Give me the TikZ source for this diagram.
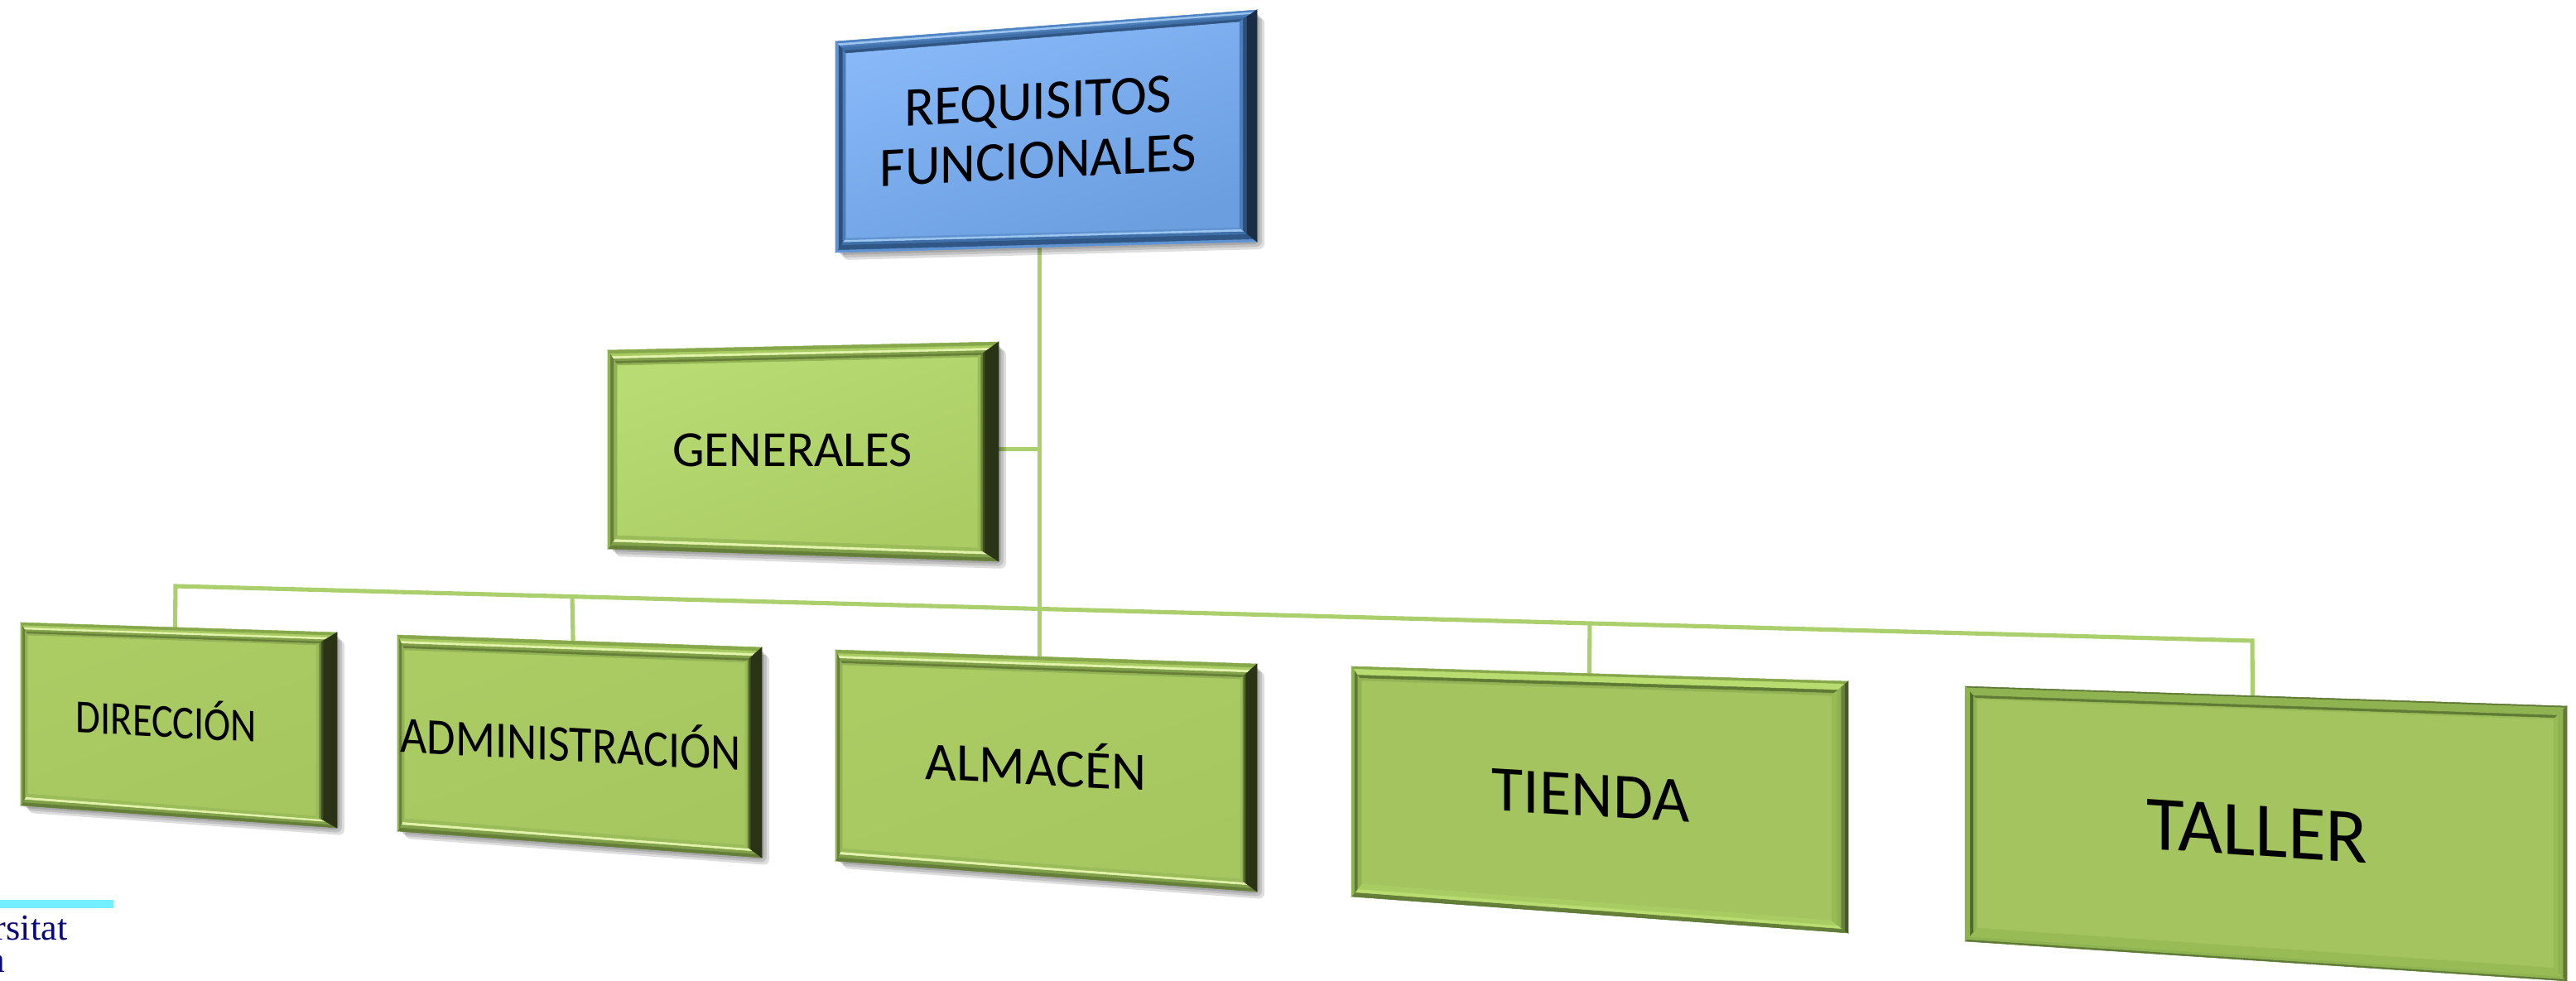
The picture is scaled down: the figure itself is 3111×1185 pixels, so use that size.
\documentclass[tikz,border=0pt]{standalone}
\usepackage{fontspec}
\setmainfont{Carlito}
\newfontfamily\logofont{Liberation Serif}
\usetikzlibrary{calc,backgrounds}
% green glossy palette
\definecolor{gA}{HTML}{86A84B}\definecolor{gB}{HTML}{A8CB62}\definecolor{gC}{HTML}{E3F3AC}
\definecolor{gD}{HTML}{80A04A}\definecolor{gE}{HTML}{667F38}\definecolor{gF}{HTML}{92B354}
\definecolor{gG}{HTML}{2B3317}\definecolor{gH}{HTML}{3F4D22}\definecolor{gI}{HTML}{66813A}
\definecolor{gJ}{HTML}{9ABC59}
% flat green palette
\definecolor{fA}{HTML}{8FB351}\definecolor{fB}{HTML}{5E7A34}\definecolor{fC}{HTML}{98BB56}
\definecolor{fD}{HTML}{4F6A2B}\definecolor{fE}{HTML}{B9DC70}\definecolor{fF}{HTML}{46592A}
% blue palette
\definecolor{bA}{HTML}{4F84C4}\definecolor{bB}{HTML}{9CC5F0}\definecolor{bC}{HTML}{3F6FA8}
\definecolor{bD}{HTML}{2F5684}\definecolor{bE}{HTML}{5E92D2}\definecolor{bF}{HTML}{1A2D45}
\definecolor{bG}{HTML}{2E4F78}\definecolor{bH}{HTML}{4C7DB8}
% faces
\definecolor{faceBa}{HTML}{88B8F8}\definecolor{faceBb}{HTML}{6A9EDF}
\definecolor{faceGa}{HTML}{B8DB74}\definecolor{faceGb}{HTML}{ABCC63}
\definecolor{faceDa}{HTML}{ABCC63}\definecolor{faceDb}{HTML}{A6C660}
\definecolor{faceFa}{HTML}{A3C45E}\definecolor{faceFb}{HTML}{A3C45E}
\definecolor{linkgreen}{HTML}{AACF6C}\definecolor{logobar}{HTML}{73EFFF}\definecolor{logotext}{HTML}{0A0A78}
\tikzset{
  link/.style={draw=linkgreen,line width=1.45pt,line join=miter},
  lbl/.style={transform shape,inner sep=0pt,align=center,text=black},
}
\newcommand{\palGloss}{%
  \def\pT{0/.25/gA,.25/.42/gB,.42/.58/gC,.58/.75/gD,.75/.9/gE,.9/1/gF}%
  \def\pB{0/.3/gE,.3/.55/gD,.55/.75/gC,.75/1/gJ}%
  \def\pL{0/.3/gF,.3/.7/gE,.7/1/gF}%
  \def\pR{0/.68/gG,.68/.78/gH,.78/.88/gI,.88/1/gJ}%
  \def\shadlist{3,6,9}}
\newcommand{\palMid}{%
  \def\pT{0/.2/gA,.2/.62/fE,.62/.85/fB,.85/1/gF}%
  \def\pB{0/.12/fB,.12/.35/gE,.35/.62/fE,.62/1/gB}%
  \def\pL{0/.35/fA,.35/.65/fB,.65/1/fA}%
  \def\pR{0/.22/fF,.22/.45/gI,.45/.7/fA,.7/1/fC}%
  \def\shadlist{0}}
\newcommand{\palFlat}{%
  \def\pT{0/.12/fB,.12/.7/fA,.7/.9/fB,.9/1/fC}%
  \def\pB{0/.15/fB,.15/.35/fA,.35/1/fC}%
  \def\pL{0/.45/fA,.45/.75/fD,.75/1/fA}%
  \def\pR{0/.3/fB,.3/.7/fA,.7/1/fC}%
  \def\shadlist{0}}
\newcommand{\palBlue}{%
  \def\pT{0/.2/bA,.2/.38/bB,.38/.55/bH,.55/.8/bC,.8/1/bD}%
  \def\pB{0/.2/bE,.2/.55/bD,.55/.75/bC,.75/.9/bB,.9/1/bE}%
  \def\pL{0/.35/bE,.35/.75/bG,.75/1/bH}%
  \def\pR{0/.6/bF,.6/.82/bG,.82/1/bH}%
  \def\shadlist{3,6,9}}
% #1 name, #2-#5 corners TL TR BR BL, #6-#9 bevel widths left right top bottom, face colours in \fa \fb
\newcommand{\bevbox}[9]{%
  \coordinate (#1-a) at (#2);\coordinate (#1-b) at (#3);
  \coordinate (#1-c) at (#4);\coordinate (#1-d) at (#5);
  \coordinate (#1-ia) at ($(#1-a)+(#6,#8)$);\coordinate (#1-ib) at ($(#1-b)+(-#7,#8)$);
  \coordinate (#1-ic) at ($(#1-c)+(-#7,-#9)$);\coordinate (#1-id) at ($(#1-d)+(#6,-#9)$);
  \foreach \s in \shadlist {\fill[black,opacity=.13,rounded corners=2pt]
    ($(#1-a)+(\s,\s)$) -- ($(#1-b)+(\s,\s)$) -- ($(#1-c)+(\s,\s)$) -- ($(#1-d)+(\s,\s)$) -- cycle;}
  \shade[top color=\fa,bottom color=\fb,shading angle=20]
    (#1-ia) -- (#1-ib) -- (#1-ic) -- (#1-id) -- cycle;
  \foreach \p/\q/\c in \pT {\path[fill=\c,draw=\c,line width=.15pt]
    ($(#1-a)!\p!(#1-ia)$) -- ($(#1-b)!\p!(#1-ib)$) -- ($(#1-b)!\q!(#1-ib)$) -- ($(#1-a)!\q!(#1-ia)$) -- cycle;}
  \foreach \p/\q/\c in \pB {\path[fill=\c,draw=\c,line width=.15pt]
    ($(#1-d)!\p!(#1-id)$) -- ($(#1-c)!\p!(#1-ic)$) -- ($(#1-c)!\q!(#1-ic)$) -- ($(#1-d)!\q!(#1-id)$) -- cycle;}
  \foreach \p/\q/\c in \pL {\path[fill=\c,draw=\c,line width=.15pt]
    ($(#1-a)!\p!(#1-ia)$) -- ($(#1-d)!\p!(#1-id)$) -- ($(#1-d)!\q!(#1-id)$) -- ($(#1-a)!\q!(#1-ia)$) -- cycle;}
  \foreach \p/\q/\c in \pR {\path[fill=\c,draw=\c,line width=.15pt]
    ($(#1-b)!\p!(#1-ib)$) -- ($(#1-c)!\p!(#1-ic)$) -- ($(#1-c)!\q!(#1-ic)$) -- ($(#1-b)!\q!(#1-ib)$) -- cycle;}
}
\begin{document}
\begin{tikzpicture}[x=.01cm,y=-.01cm]
\useasboundingbox (0,0) rectangle (3111,1185);
\clip (0,0) rectangle (3111,1185);
% boxes
\palBlue\def\fa{faceBa}\def\fb{faceBb}
\bevbox{req}{1009,50}{1518,12}{1518,292}{1009,305}{12}{21}{14}{17}
\palGloss\def\fa{faceGa}\def\fb{faceGb}
\bevbox{gen}{734,423}{1206,413}{1206,678}{734,663}{11}{25}{18}{16}
\def\fa{faceDa}\def\fb{faceDb}
\bevbox{dir}{25,752}{407,764}{407,1000}{25,973}{8}{25}{15}{14}
\bevbox{adm}{480,767}{920,782}{920,1036}{480,1004}{8}{20}{18}{15}
\bevbox{alm}{1009,785}{1518,802}{1518,1077}{1009,1040}{8}{20}{18}{15}
\palMid\def\fa{faceFa}\def\fb{faceFb}
\bevbox{tie}{1632,805}{2232,823}{2232,1127}{1632,1083}{12}{20}{17}{15}
\palFlat
\bevbox{tal}{2373,829}{3100,853}{3100,1185}{2373,1137}{14}{16}{16}{16}
% connectors
\coordinate (req-s) at ($(req-d)!.484!(req-c)$);
\coordinate (alm-n) at ($(alm-a)!.484!(alm-b)$);
\coordinate (gen-e) at ($(gen-b)!.49!(gen-c)$);
\coordinate (dir-n) at ($(dir-a)!.488!(dir-b)$);
\coordinate (adm-n) at ($(adm-a)!.482!(adm-b)$);
\coordinate (tie-n) at ($(tie-a)!.479!(tie-b)$);
\coordinate (tal-n) at ($(tal-a)!.478!(tal-b)$);
\coordinate (busl) at (212,708);
\coordinate (busr) at (2720,774);
\coordinate (bus-adm) at ($(busl)!.191!(busr)$);
\coordinate (bus-tie) at ($(busl)!.681!(busr)$);
\coordinate (main-gen) at (req-s |- gen-e);
\begin{scope}[on background layer]
  \draw[link] (req-s) -- (alm-n);
  \draw[link] (gen-e) -- (main-gen);
  \draw[link] (dir-n) -- (busl) -- (busr) -- (tal-n);
  \draw[link] (adm-n) -- (bus-adm);
  \draw[link] (tie-n) -- (bus-tie);
\end{scope}
% labels
\node[lbl,yslant=.052,xscale=.98,font=\fontsize{19.2}{20.4}\selectfont] (reqt) at (1254,158) {REQUISITOS\\FUNCIONALES};
\node[lbl,font=\fontsize{17.4}{20}\selectfont] (gent) at (957,544) {GENERALES};
\node[lbl,yslant=-.055,xscale=.85,font=\fontsize{16.2}{20}\selectfont] (dirt) at (201,867) {DIRECCIÓN};
\node[lbl,yslant=-.053,xscale=.9,font=\fontsize{17.7}{20}\selectfont] (admt) at (689,894) {ADMINISTRACIÓN};
\node[lbl,yslant=-.052,font=\fontsize{18.5}{20}\selectfont] (almt) at (1251,921) {ALMACÉN};
\node[lbl,yslant=-.06,font=\fontsize{22.2}{26}\selectfont] (tiet) at (1921,961) {TIENDA};
\node[lbl,yslant=-.065,font=\fontsize{26.6}{30}\selectfont] (talt) at (2726,1004) {TALLER};
% logo
\fill[logobar] (0,1087) rectangle (137,1097);
\node[anchor=base east,inner sep=0pt,text=logotext,font=\fontsize{12.6}{14}\logofont\selectfont] (logo1) at (82,1135) {rsitat};
\node[anchor=base east,inner sep=0pt,text=logotext,font=\fontsize{12.6}{14}\logofont\selectfont] (logo2) at (7,1174) {a};
\end{tikzpicture}
\end{document}
